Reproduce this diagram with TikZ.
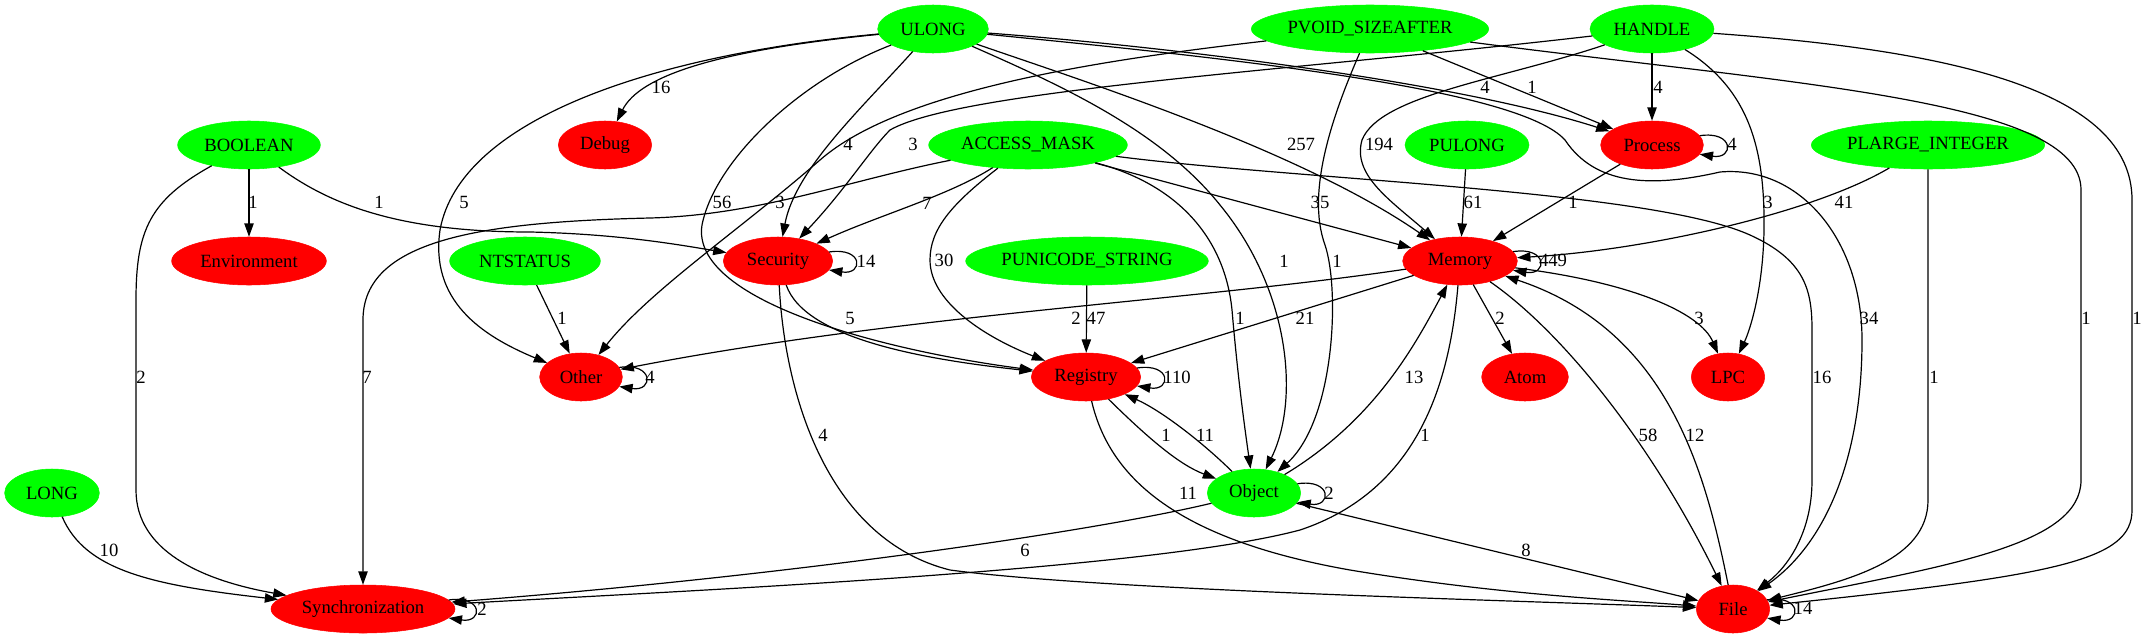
\documentclass[tikz,border=0pt]{standalone}
\usepackage{fontspec}
\setmainfont{Liberation Serif}
\usetikzlibrary{arrows.meta,shapes.geometric}

\begin{document}
\begin{tikzpicture}[x=0.75pt, y=-0.75pt, >={Triangle[length=10pt,width=7pt]},
  font=\fontsize{14pt}{16pt}\selectfont,
  vnode/.style={ellipse, inner xsep=-5pt, inner ysep=0pt, minimum height=36pt},
  gnode/.style={vnode, fill=green, draw=green},
  rnode/.style={vnode, fill=red, draw=red},
  link/.style={->, line width=0.9pt},
  lbl/.style={inner sep=0pt}]
  \useasboundingbox (0,0) rectangle (2147,639);

  \node[gnode, minimum width=83pt] (ulong) at (933,29) {ULONG};
  \node[gnode, minimum width=178pt] (pvoid) at (1370,29) {PVOID\_SIZEAFTER};
  \node[gnode, minimum width=93pt] (handle) at (1652,29) {HANDLE};
  \node[gnode, minimum width=107pt] (boolean) at (249,145) {BOOLEAN};
  \node[rnode, minimum width=70pt] (debug) at (605,145) {Debug};
  \node[gnode, minimum width=149pt] (access) at (1028,145) {ACCESS\_MASK};
  \node[gnode, minimum width=93pt] (pulong) at (1467,145) {PULONG};
  \node[rnode, minimum width=77pt] (process) at (1652,145) {Process};
  \node[gnode, minimum width=175pt] (plarge) at (1928,145) {PLARGE\_INTEGER};
  \node[rnode, minimum width=116pt] (environ) at (249,261) {Environment};
  \node[gnode, minimum width=113pt] (ntstatus) at (525,261) {NTSTATUS};
  \node[rnode, minimum width=82pt] (security) at (778,261) {Security};
  \node[gnode, minimum width=182pt] (punicode) at (1087,261) {PUNICODE\_STRING};
  \node[rnode, minimum width=86pt] (memory) at (1460,261) {Memory};
  \node[rnode, minimum width=62pt] (other) at (581,377) {Other};
  \node[rnode, minimum width=82pt] (registry) at (1086,377) {Registry};
  \node[rnode, minimum width=65pt] (atom) at (1525,377) {Atom};
  \node[rnode, minimum width=55pt] (lpc) at (1728,377) {LPC};
  \node[gnode, minimum width=71pt] (long) at (52,493) {LONG};
  \node[gnode, minimum width=70pt] (object) at (1254,493) {Object};
  \node[rnode, minimum width=138pt] (sync) at (363,609) {Synchronization};
  \node[rnode, minimum width=55pt] (file) at (1733,609) {File};

  \draw[link] (ulong) .. controls (720,50) and (640,75) .. (debug) node[lbl] at (661,87) {16};
  \draw[link] (ulong) .. controls (650,55) and (460,120) .. (440,230) .. controls (430,300) and (480,335) .. (other) node[lbl] at (464,202) {5};
  \draw[link] (ulong) .. controls (860,110) and (795,170) .. (security) node[lbl] at (848,144) {4};
  \draw[link] (ulong) .. controls (800,80) and (715,160) .. (702,225) .. controls (690,300) and (880,350) .. (registry) node[lbl] at (722,202) {56};
  \draw[link] (ulong) .. controls (1060,85) and (1160,130) .. (1220,205) .. controls (1290,290) and (1300,400) .. (object) node[lbl] at (1284,261) {1};
  \draw[link] (ulong) .. controls (1080,80) and (1300,150) .. (memory) node[lbl] at (1301,144) {257};
  \draw[link] (ulong) .. controls (1150,45) and (1450,80) .. (process) node[lbl] at (1485,87) {4};
  \draw[link] (ulong) .. controls (1250,60) and (1520,90) .. (1565,140) .. controls (1595,185) and (1650,188) .. (1720,172) .. controls (1800,165) and (1862,240) .. (1862,340) .. controls (1862,450) and (1830,540) .. (file) node[lbl] at (1869,318) {34};

  \draw[link] (pvoid) .. controls (1100,60) and (900,90) .. (820,160) .. controls (740,230) and (650,290) .. (other) node[lbl] at (780,202) {3};
  \draw[link] (pvoid) .. controls (1335,110) and (1305,190) .. (1325,245) .. controls (1340,290) and (1335,420) .. (object) node[lbl] at (1337,261) {1};
  \draw[link] (pvoid) -- (process) node[lbl] at (1532,87) {1};
  \draw[link] (pvoid) .. controls (1800,85) and (2081,100) .. (2081,190) -- (2081,480) .. controls (2081,545) and (1950,565) .. (file) node[lbl] at (2086,318) {1};

  \draw[link] (handle) .. controls (1300,70) and (960,90) .. (890,130) .. controls (870,150) and (845,190) .. (security) node[lbl] at (913,144) {3};
  \draw[link] (handle) .. controls (1500,80) and (1380,95) .. (1362,140) .. controls (1352,175) and (1390,200) .. (memory) node[lbl] at (1379,144) {194};
  \draw[link] (handle) -- (process) node[lbl] at (1658,87) {4};
  \draw[link] (handle) .. controls (1750,90) and (1765,150) .. (1764,230) .. controls (1763,290) and (1750,330) .. (lpc) node[lbl] at (1768,202) {3};
  \draw[link] (handle) .. controls (1950,50) and (2132,90) .. (2132,200) -- (2132,510) .. controls (2132,560) and (2060,575) .. (file) node[lbl] at (2137,318) {1};

  \draw[link] (boolean) -- (environ) node[lbl] at (253,202) {1};
  \draw[link] (boolean) .. controls (330,205) and (400,232) .. (530,232) .. controls (620,234) and (680,245) .. (security) node[lbl] at (379,202) {1};
  \draw[link] (boolean) .. controls (150,200) and (136,230) .. (136,300) -- (136,490) .. controls (136,550) and (200,580) .. (sync) node[lbl] at (141,377) {2};
  \draw[link] (long) .. controls (85,570) and (150,585) .. (sync) node[lbl] at (109,550) {10};
  \draw[link] (ntstatus) -- (other) node[lbl] at (562,318) {1};

  \draw[link] (access) .. controls (950,195) and (880,215) .. (security) node[lbl] at (927,203) {7};
  \draw[link] (access) .. controls (850,180) and (760,215) .. (650,218) .. controls (480,222) and (363,240) .. (363,320) -- (sync) node[lbl] at (367,377) {7};
  \draw[link] (access) .. controls (950,205) and (930,230) .. (930,260) .. controls (930,300) and (980,335) .. (registry) node[lbl] at (944,260) {30};
  \draw[link] (access) .. controls (1180,185) and (1225,240) .. (1232,310) .. controls (1238,380) and (1245,430) .. (object) node[lbl] at (1240,318) {1};
  \draw[link] (access) -- (memory) node[lbl] at (1320,202) {35};
  \draw[link] (access) .. controls (1300,180) and (1650,190) .. (1750,235) .. controls (1805,260) and (1812,290) .. (1812,330) -- (1812,480) .. controls (1812,530) and (1790,565) .. (file) node[lbl] at (1822,377) {16};

  \draw[link] (pulong) -- (memory) node[lbl] at (1473,202) {61};
  \draw[link] (process) -- (memory) node[lbl] at (1573,202) {1};
  \draw[link] (plarge) .. controls (1815,212) and (1650,250) .. (memory) node[lbl] at (1844,202) {41};
  \draw[link] (plarge) -- (1928,500) .. controls (1928,560) and (1850,580) .. (file) node[lbl] at (1934,377) {1};

  \draw[link] (security) .. controls (805,340) and (930,360) .. (registry) node[lbl] at (850,318) {5};
  \draw[link] (security) .. controls (785,400) and (830,540) .. (950,570) .. controls (1100,590) and (1500,600) .. (file) node[lbl] at (823,435) {4};
  \draw[link] (punicode) -- (registry) node[lbl] at (1096,318) {47};

  \draw[link] (memory) .. controls (1200,300) and (900,315) .. (other) node[lbl] at (1076,318) {2};
  \draw[link] (memory) -- (registry) node[lbl] at (1305,318) {21};
  \draw[link] (memory) -- (atom) node[lbl] at (1500,318) {2};
  \draw[link] (memory) .. controls (1630,282) and (1700,312) .. (lpc) node[lbl] at (1699,318) {3};
  \draw[link] (memory) .. controls (1560,330) and (1650,440) .. (file) node[lbl] at (1648,435) {58};
  \draw[link] (file) .. controls (1705,470) and (1668,330) .. (memory) node[lbl] at (1695,435) {12};
  \draw[link] (memory) .. controls (1450,380) and (1420,490) .. (1300,530) .. controls (1150,570) and (700,590) .. (sync) node[lbl] at (1425,435) {1};

  \draw[link] (object) .. controls (1375,420) and (1415,345) .. (memory) node[lbl] at (1414,377) {13};
  \draw[link] (registry) .. controls (1150,440) and (1180,465) .. (object) node[lbl] at (1166,435) {1};
  \draw[link] (object) .. controls (1200,440) and (1160,410) .. (registry) node[lbl] at (1205,435) {11};
  \draw[link] (registry) .. controls (1110,480) and (1180,540) .. (1350,570) .. controls (1500,595) and (1620,600) .. (file) node[lbl] at (1188,493) {11};
  \draw[link] (object) .. controls (1100,530) and (800,575) .. (sync) node[lbl] at (1025,550) {6};
  \draw[link] (object) -- (file) node[lbl] at (1526,550) {8};

  \draw[link] (security.10) .. controls +(26pt,4pt) and +(26pt,-4pt) .. (security.-10) node[lbl] at (866,261) {14};
  \draw[link] (memory.10) .. controls +(26pt,4pt) and +(26pt,-4pt) .. (memory.-10) node[lbl] at (1553,260) {449};
  \draw[link] (process.11) .. controls +(26pt,4pt) and +(26pt,-4pt) .. (process.-11) node[lbl] at (1732,144) {4};
  \draw[link] (other.14) .. controls +(26pt,4pt) and +(26pt,-4pt) .. (other.-14) node[lbl] at (650,377) {4};
  \draw[link] (registry.10) .. controls +(26pt,4pt) and +(26pt,-4pt) .. (registry.-10) node[lbl] at (1177,377) {110};
  \draw[link] (object.12) .. controls +(26pt,4pt) and +(26pt,-4pt) .. (object.-12) node[lbl] at (1329,493) {2};
  \draw[link] (sync.6) .. controls +(26pt,4pt) and +(26pt,-4pt) .. (sync.-6) node[lbl] at (482,609) {2};
  \draw[link] (file.15) .. controls +(26pt,4pt) and +(26pt,-4pt) .. (file.-15) node[lbl] at (1803,608) {14};
\end{tikzpicture}
\end{document}
